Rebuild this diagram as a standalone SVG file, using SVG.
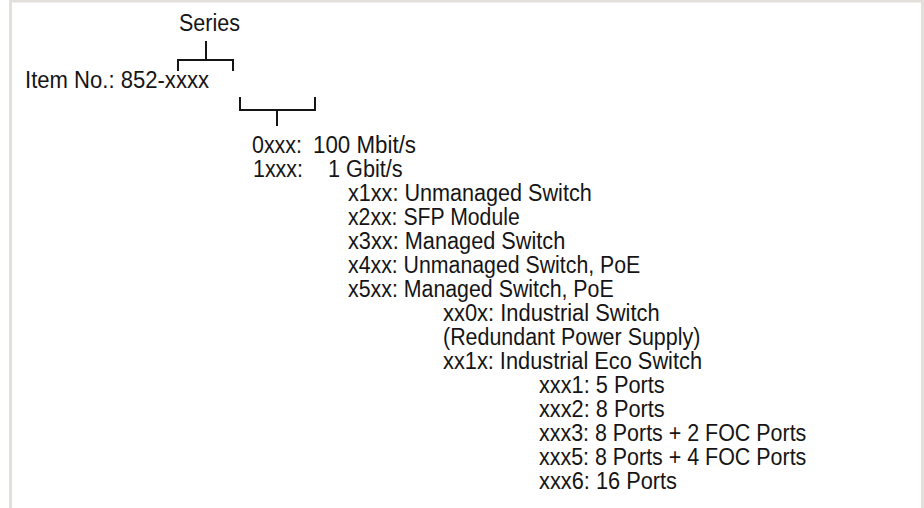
<svg xmlns="http://www.w3.org/2000/svg" width="924" height="508" viewBox="0 0 924 508">
<style>
.t{font-family:"Liberation Sans",Arial,sans-serif;font-size:23px;fill:#151515}
.br{fill:none;stroke:#151515;stroke-width:2}
.frame{fill:#e3dfdb}
</style>
<rect width="924" height="508" fill="#ffffff"/>
<g id="frame">
<rect class="frame" x="9" y="0" width="3" height="508"/>
<rect class="frame" x="9" y="0" width="915" height="2.5"/>
<rect class="frame" x="921" y="0" width="3" height="508"/>
</g>
<g id="connectors">
<path class="br" d="M178,71 V60 H233 V71 M206,60 V41"/>
<path class="br" d="M240,97 V110 H315 V97 M277,110 V126"/>
</g>
<g id="series"><text class="t" x="179" y="31" textLength="61" lengthAdjust="spacingAndGlyphs">Series</text></g>
<g id="item"><text class="t" x="25" y="87.5" textLength="184" lengthAdjust="spacingAndGlyphs">Item No.: 852-xxxx</text></g>
<g id="speed">
<text class="t" x="252" y="152.5" textLength="50" lengthAdjust="spacingAndGlyphs">0xxx:</text>
<text class="t" x="313" y="152.5" textLength="103" lengthAdjust="spacingAndGlyphs">100 Mbit/s</text>
<text class="t" x="253" y="176.5" textLength="50" lengthAdjust="spacingAndGlyphs">1xxx:</text>
<text class="t" x="328" y="176.5" textLength="74.7" lengthAdjust="spacingAndGlyphs">1 Gbit/s</text>
</g>
<g id="type">
<text class="t" x="348" y="201" textLength="243.7" lengthAdjust="spacingAndGlyphs">x1xx: Unmanaged Switch</text>
<text class="t" x="348" y="225" textLength="171.7" lengthAdjust="spacingAndGlyphs">x2xx: SFP Module</text>
<text class="t" x="348" y="249" textLength="217.3" lengthAdjust="spacingAndGlyphs">x3xx: Managed Switch</text>
<text class="t" x="348" y="273" textLength="292.3" lengthAdjust="spacingAndGlyphs">x4xx: Unmanaged Switch, PoE</text>
<text class="t" x="348" y="297" textLength="265.7" lengthAdjust="spacingAndGlyphs">x5xx: Managed Switch, PoE</text>
</g>
<g id="variant">
<text class="t" x="443" y="321" textLength="216.7" lengthAdjust="spacingAndGlyphs">xx0x: Industrial Switch</text>
<text class="t" x="443" y="345" textLength="257.3" lengthAdjust="spacingAndGlyphs">(Redundant Power Supply)</text>
<text class="t" x="443" y="369" textLength="259" lengthAdjust="spacingAndGlyphs">xx1x: Industrial Eco Switch</text>
</g>
<g id="ports">
<text class="t" x="539" y="393" textLength="125.7" lengthAdjust="spacingAndGlyphs">xxx1: 5 Ports</text>
<text class="t" x="539" y="417" textLength="125.7" lengthAdjust="spacingAndGlyphs">xxx2: 8 Ports</text>
<text class="t" x="539" y="441" textLength="267.3" lengthAdjust="spacingAndGlyphs">xxx3: 8 Ports + 2 FOC Ports</text>
<text class="t" x="539" y="465" textLength="267.3" lengthAdjust="spacingAndGlyphs">xxx5: 8 Ports + 4 FOC Ports</text>
<text class="t" x="539" y="489" textLength="138" lengthAdjust="spacingAndGlyphs">xxx6: 16 Ports</text>
</g>
</svg>
